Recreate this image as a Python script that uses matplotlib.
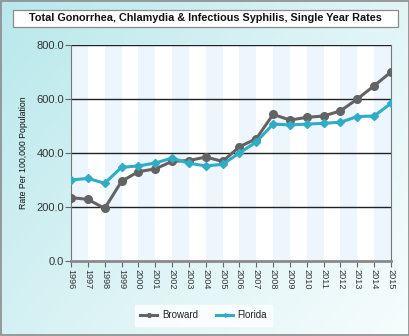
import numpy as np
import matplotlib
matplotlib.use("Agg")
import matplotlib.pyplot as plt
from matplotlib.colors import LinearSegmentedColormap
from matplotlib.patches import Rectangle

plt.rcParams['font.family'] = ['Liberation Sans', 'DejaVu Sans']

years = [str(y) for y in range(1996, 2016)]
broward = [235, 228, 195, 295, 331, 341, 369, 372, 385, 369,
           423, 453, 543, 522, 532, 537, 556, 600, 649, 700]
florida = [300, 306, 288, 347, 352, 363, 381, 362, 352, 358,
           400, 441, 507, 504, 507, 510, 514, 535, 537, 584]
y_ticks = [0, 200, 400, 600, 800]

W, H = 410, 336
fig = plt.figure(figsize=(W / 100, H / 100), dpi=100)

# background gradient behind everything
bg = fig.add_axes([0, 0, 1, 1], zorder=-10)
gx, gy = np.meshgrid(np.linspace(0, 1, 200), np.linspace(0, 1, 200))
grad = (gx * 0.6 + gy * 0.4)
cmap = LinearSegmentedColormap.from_list("bg", ["#b8e8ec", "#dcf3f5", "#f6fdfd"])
bg.imshow(grad, cmap=cmap, aspect='auto', extent=[0, 1, 0, 1], origin='upper')
bg.set_xlim(0, 1)
bg.set_ylim(0, 1)
bg.axis('off')
bg.add_patch(Rectangle((0.002, 0.003), 0.995, 0.994, fill=False,
                       edgecolor='#8a8a8a', lw=1.2, transform=bg.transAxes))

# title box (pixel coords converted to figure fraction)
bx0, bx1, by0, by1 = 13, 398, 10, 26.5
bg.add_patch(Rectangle((bx0 / W, 1 - by1 / H), (bx1 - bx0) / W, (by1 - by0) / H,
                       facecolor='white', edgecolor='#8a8a8a', lw=0.9,
                       transform=bg.transAxes))
fig.text(0.5, 1 - (by0 + by1) / 2 / H,
         "Total Gonorrhea, Chlamydia & Infectious Syphilis, Single Year Rates",
         ha='center', va='center', fontsize=7.8, fontweight='bold', color='#111111')

ax = fig.add_axes([0.1732, 0.2232, 0.7805, 0.6429])
ax.set_facecolor('white')
x = np.arange(len(years))

# alternating column bands
for i in range(0, len(years) - 1, 2):
    ax.axvspan(i, i + 1, color='#edf5fd', lw=0, zorder=0)

for v in y_ticks[1:]:
    ax.axhline(v, color='#222222', lw=1.0, zorder=1)

ax.plot(x, broward, color='#636363', lw=2.2, marker='o', markersize=5.5,
        label='Broward', zorder=3)
ax.plot(x, florida, color='#30adc6', lw=2.2, marker='D', markersize=3.6,
        label='Florida', zorder=4)

ax.set_xlim(0, len(years) - 1)
ax.set_ylim(0, 800)
ax.set_xticks(x)
ax.set_xticklabels(years, rotation=-90, fontsize=6.6, color='#333333')
ax.set_yticks(y_ticks)
ax.set_yticklabels([f"{v:.1f}" for v in y_ticks], fontsize=8, color='#333333')
ax.tick_params(axis='x', length=4, width=0.8, color='#666666', pad=2)
ax.tick_params(axis='y', length=4, width=0.8, color='#666666', pad=1)
ax.set_ylabel("Rate Per 100,000 Population", fontsize=6.3, color='#111111', labelpad=6)

ax.spines['top'].set_visible(False)
ax.spines['bottom'].set_color('#8a8a8a')
ax.spines['bottom'].set_linewidth(2)
for side in ('left', 'right'):
    ax.spines[side].set_color('#777777')
    ax.spines[side].set_linestyle((0, (1, 1)))
    ax.spines[side].set_linewidth(0.8)

leg = fig.legend(loc='center', bbox_to_anchor=(0.497, 0.062), ncol=2, frameon=True,
                 fontsize=7, handlelength=1.7, handletextpad=0.5, columnspacing=1.9,
                 borderpad=0.55, fancybox=False, markerscale=0.5)
leg.get_frame().set_facecolor('white')
leg.get_frame().set_edgecolor('white')
for t in leg.get_texts():
    t.set_color('#222222')

fig.savefig("out.png", dpi=100)
